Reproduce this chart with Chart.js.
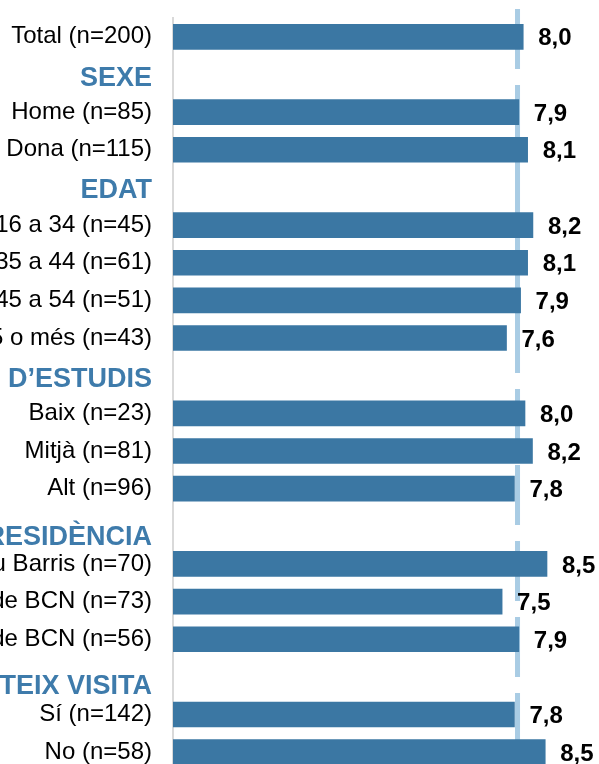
<!DOCTYPE html>
<html>
<head>
<meta charset="utf-8">
<script src="https://cdn.jsdelivr.net/npm/chart.js@4"></script>
<style>
  html, body { margin: 0; padding: 0; background: #fff; overflow: hidden; }
  #wrap { position: absolute; left: -150px; top: 0; }
</style>
</head>
<body>
<div id="wrap"><canvas id="chart" width="763" height="780"></canvas></div>
<script>
// rows of the chart, group headers have no bar
const CATEGORIES = [
  'Total (n=200)',
  'SEXE',
  'Home (n=85)',
  'Dona (n=115)',
  'EDAT',
  '16 a 34 (n=45)',
  '35 a 44 (n=61)',
  '45 a 54 (n=51)',
  '55 o més (n=43)',
  'NIVELL D\u2019ESTUDIS',
  'Baix (n=23)',
  'Mitjà (n=81)',
  'Alt (n=96)',
  'LLOC DE RESIDÈNCIA',
  'Nou Barris (n=70)',
  'Resta de BCN (n=73)',
  'Fora de BCN (n=56)',
  'REPETEIX VISITA',
  'Sí (n=142)',
  'No (n=58)',
];
const HEADERS = ['SEXE', 'EDAT', 'NIVELL D\u2019ESTUDIS', 'LLOC DE RESIDÈNCIA', 'REPETEIX VISITA'];
// headers sit a little below their row in the original
const HEADER_SHIFT = [4, 3, 4, 11, 10];
const SCORES = [
  7.96,
  null, 7.86, 8.06,
  null, 8.18, 8.06, 7.90, 7.58,
  null, 8.00, 8.17, 7.76,
  null, 8.50, 7.48, 7.86,
  null, 7.76, 8.46,
];
const REFERENCE = 7.83;
const X_MIN = 0;
const X_MAX = 10;

const FONT = 'Liberation Sans, Arial, sans-serif';
const BAR_COLOR = '#3b77a3';
const HEAD_COLOR = '#3e7bab';

const headerIdx = (i) => HEADERS.indexOf(CATEGORIES[i]);
const isHeader = (i) => headerIdx(i) >= 0;
const fmt = (v) => v.toFixed(1).replace('.', ',');

const refLine = {
  id: 'refLine',
  beforeDatasetsDraw(chart) {
    const { ctx, chartArea } = chart;
    const x = chart.scales.x.getPixelForValue(REFERENCE);
    ctx.save();
    ctx.strokeStyle = '#a9cce4';
    ctx.lineWidth = 5;
    ctx.setLineDash([60, 16]);
    ctx.beginPath();
    ctx.moveTo(x, chartArea.top - 9);
    ctx.lineTo(x, chartArea.bottom);
    ctx.stroke();
    ctx.restore();
  },
};

const valueLabels = {
  id: 'valueLabels',
  afterDatasetsDraw(chart) {
    const { ctx } = chart;
    const meta = chart.getDatasetMeta(0);
    ctx.save();
    ctx.font = `bold 24px ${FONT}`;
    ctx.fillStyle = '#000';
    ctx.textAlign = 'left';
    ctx.textBaseline = 'middle';
    meta.data.forEach((bar, i) => {
      const v = SCORES[i];
      if (v === null) return;
      ctx.fillText(fmt(v), bar.x + 15, bar.y + 2);
    });
    ctx.restore();
  },
};

new Chart(document.getElementById('chart').getContext('2d'), {
  type: 'bar',
  data: {
    labels: CATEGORIES,
    datasets: [{
      data: SCORES,
      backgroundColor: BAR_COLOR,
      borderWidth: 0,
      barThickness: 25,
    }],
  },
  options: {
    indexAxis: 'y',
    responsive: false,
    animation: false,
    devicePixelRatio: 1,
    layout: { padding: { top: 18, bottom: 9, left: 0, right: 0 } },
    plugins: { legend: { display: false }, tooltip: { enabled: false } },
    scales: {
      x: { display: false, min: X_MIN, max: X_MAX },
      y: {
        grid: { display: false, drawTicks: false },
        border: { display: true, color: '#d9d9d9', width: 2 },
        ticks: {
          autoSkip: false,
          padding: 21,
          callback(value, i) {
            const label = this.getLabelForValue(value);
            return isHeader(i) ? ['', label] : label;
          },
          color: (c) => (isHeader(c.index) ? HEAD_COLOR : '#000'),
          font: (c) => (isHeader(c.index)
            ? { family: FONT, size: 27, weight: 'bold', lineHeight: `${2 * HEADER_SHIFT[headerIdx(c.index)]}px` }
            : { family: FONT, size: 24 }),
        },
        afterFit: (scale) => {
          scale.width = 323;
          scale.paddingTop = 0;
          scale.paddingBottom = 0;
        },
      },
    },
  },
  plugins: [refLine, valueLabels],
});
</script>
</body>
</html>
